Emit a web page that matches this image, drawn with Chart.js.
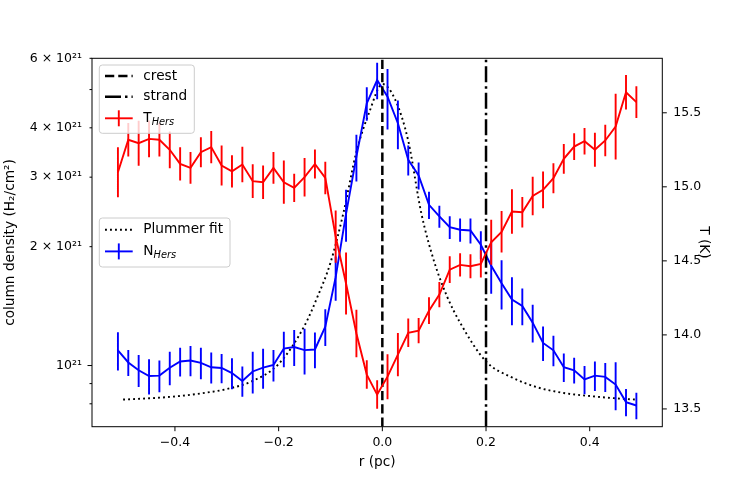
<!DOCTYPE html>
<html>
<head>
<meta charset="UTF-8">
<title>Column density and temperature profile</title>
<script src="https://cdn.jsdelivr.net/npm/chart.js"></script>
<style>
    body { margin: 0; background: #fff; }
    #wrap { width: 736px; height: 480px; position: relative; }
</style>
</head>
<body>
<div id="wrap"><canvas id="profile"></canvas></div>
<script>
// radial offsets of the profile samples (pc)
const rVals = [-0.51, -0.49, -0.47, -0.45, -0.43, -0.41, -0.39, -0.37, -0.35, -0.33,
               -0.31, -0.29, -0.27, -0.25, -0.23, -0.21, -0.19, -0.17, -0.15, -0.13,
               -0.11, -0.09, -0.07, -0.05, -0.03, -0.01, 0.01, 0.03, 0.05, 0.07,
               0.09, 0.11, 0.13, 0.15, 0.17, 0.19, 0.21, 0.23, 0.25, 0.27,
               0.29, 0.31, 0.33, 0.35, 0.37, 0.39, 0.41, 0.43, 0.45, 0.47, 0.49];

// N_Hers in units of 1e21 cm^-2
const nVals = [1.093, 1.018, 0.973, 0.941, 0.943, 0.987, 1.024, 1.030, 1.016, 0.990,
               0.986, 0.957, 0.914, 0.966, 0.988, 1.003, 1.104, 1.114, 1.094, 1.098,
               1.255, 1.674, 2.423, 3.382, 4.616, 5.287, 4.798, 4.109, 3.318, 3.031,
               2.553, 2.388, 2.240, 2.208, 2.198, 2.023, 1.790, 1.617, 1.469, 1.416,
               1.284, 1.141, 1.093, 0.990, 0.973, 0.922, 0.943, 0.936, 0.895, 0.808, 0.792];
const nErr = [0.122, 0.077, 0.090, 0.096, 0.087, 0.096, 0.086, 0.090, 0.093, 0.089,
              0.084, 0.086, 0.081, 0.117, 0.115, 0.092, 0.114, 0.117, 0.145, 0.114,
              0.134, 0.214, 0.364, 0.459, 0.449, 0.563, 0.838, 0.579, 0.290, 0.238,
              0.204, 0.153, 0.147, 0.150, 0.160, 0.165, 0.271, 0.231, 0.205, 0.151,
              0.141, 0.114, 0.097, 0.082, 0.073, 0.076, 0.081, 0.079, 0.124, 0.064, 0.061];

// T_Hers (K)
const tVals = [15.099, 15.318, 15.295, 15.324, 15.318, 15.250, 15.155, 15.128, 15.234, 15.268,
               15.144, 15.105, 15.151, 15.038, 15.031, 15.128, 15.031, 14.993, 15.065, 15.154,
               15.060, 14.664, 14.347, 14.009, 13.732, 13.597, 13.718, 13.867, 14.014, 14.029,
               14.164, 14.272, 14.441, 14.473, 14.464, 14.480, 14.626, 14.696, 14.833, 14.828,
               14.938, 14.980, 15.058, 15.189, 15.272, 15.308, 15.250, 15.313, 15.407, 15.639, 15.572];
const tErr = [0.169, 0.113, 0.152, 0.124, 0.113, 0.124, 0.113, 0.107, 0.101, 0.109,
              0.135, 0.109, 0.120, 0.114, 0.113, 0.107, 0.146, 0.096, 0.130, 0.098,
              0.110, 0.176, 0.210, 0.160, 0.096, 0.096, 0.152, 0.146, 0.096, 0.085,
              0.090, 0.085, 0.090, 0.079, 0.081, 0.092, 0.152, 0.140, 0.150, 0.103,
              0.130, 0.124, 0.101, 0.101, 0.090, 0.090, 0.115, 0.107, 0.222, 0.116, 0.107];

// Plummer fit (1e21 cm^-2)
const fitR = [-0.50, -0.45, -0.40, -0.35, -0.30, -0.25, -0.20, -0.15, -0.125, -0.10, -0.075, -0.05, -0.025,
              0, 0.025, 0.05, 0.075, 0.10, 0.125, 0.15, 0.20, 0.25, 0.30, 0.35, 0.40, 0.45, 0.49];
const fitN = [0.820, 0.826, 0.835, 0.850, 0.872, 0.914, 1.009, 1.262, 1.494, 1.822, 2.437, 3.476, 4.387,
              5.164, 4.706, 3.706, 2.437, 1.833, 1.494, 1.284, 1.024, 0.933, 0.880, 0.852, 0.837, 0.826, 0.820];

// marker lines
const crestR = 0.0;
const strandR = 0.2;

// axis ranges and ticks
const xMin = -0.56, xMax = 0.54;
const nMin = 0.70, nMax = 6.0;
const tMin = 13.38, tMax = 15.868;
const xTickVals = [-0.4, -0.2, 0.0, 0.2, 0.4];
const xTickLabels = ['\u22120.4', '\u22120.2', '0.0', '0.2', '0.4'];
const nTickVals = [0.8, 0.9, 1, 2, 3, 4, 5, 6];
const nTickLabels = ['', '', '10\u00b2\u00b9', '2 \u00d7 10\u00b2\u00b9', '3 \u00d7 10\u00b2\u00b9', '4 \u00d7 10\u00b2\u00b9', '', '6 \u00d7 10\u00b2\u00b9'];
const tTickVals = [13.5, 14.0, 14.5, 15.0, 15.5];
const tTickLabels = ['13.5', '14.0', '14.5', '15.0', '15.5'];

const FONT = "'DejaVu Sans', sans-serif";
const tickFont = { family: FONT, size: 12.5 };

const pts = (xs, ys) => xs.map((x, i) => ({ x: x, y: ys[i] }));

// vertical error bars, drawn right after their own dataset
const errorBars = {
    id: 'errorBars',
    afterDatasetDraw(chart, args) {
        const ds = chart.data.datasets[args.index];
        if (!ds.errors) return;
        const xs = chart.scales[args.meta.xAxisID];
        const ys = chart.scales[args.meta.yAxisID];
        const ctx = chart.ctx;
        ctx.save();
        ctx.strokeStyle = ds.borderColor;
        ctx.lineWidth = ds.borderWidth;
        ctx.beginPath();
        ds.data.forEach((p, i) => {
            const x = xs.getPixelForValue(p.x);
            ctx.moveTo(x, ys.getPixelForValue(p.y - ds.errors[i]));
            ctx.lineTo(x, ys.getPixelForValue(p.y + ds.errors[i]));
        });
        ctx.stroke();
        ctx.restore();
    }
};

function labelWithSub(ctx, x, y, main, sub) {
    ctx.font = '13.7px ' + FONT;
    ctx.textBaseline = 'middle';
    ctx.textAlign = 'left';
    ctx.fillText(main, x, y);
    const w = ctx.measureText(main).width;
    if (sub) {
        ctx.font = 'italic 9.8px ' + FONT;
        ctx.fillText(sub, x + w, y + 4);
    }
}

function drawLegend(ctx, x, y, w, h, rows) {
    ctx.save();
    ctx.fillStyle = 'rgba(255,255,255,0.8)';
    ctx.strokeStyle = '#cccccc';
    ctx.lineWidth = 1;
    ctx.beginPath();
    ctx.roundRect(x, y, w, h, 3);
    ctx.fill();
    ctx.stroke();
    rows.forEach(row => {
        const yy = y + row.dy;
        ctx.strokeStyle = row.color;
        ctx.lineWidth = row.width;
        ctx.setLineDash(row.dash || []);
        ctx.beginPath();
        ctx.moveTo(x + 5.7, yy);
        ctx.lineTo(x + 33.4, yy);
        ctx.stroke();
        ctx.setLineDash([]);
        if (row.bar) {
            ctx.beginPath();
            ctx.moveTo(x + 19.5, yy - 8);
            ctx.lineTo(x + 19.5, yy + 8);
            ctx.stroke();
        }
        ctx.fillStyle = '#000';
        labelWithSub(ctx, x + 44, yy, row.label, row.sub);
    });
    ctx.restore();
}

// frame, tick marks, axis titles and the two legends
const decorations = {
    id: 'decorations',
    afterDraw(chart) {
        const { ctx, chartArea: a, scales } = chart;
        ctx.save();
        ctx.strokeStyle = '#000';
        ctx.lineWidth = 1;
        ctx.strokeRect(a.left, a.top, a.right - a.left, a.bottom - a.top);
        ctx.beginPath();
        xTickVals.forEach(v => {
            const x = scales.x.getPixelForValue(v);
            ctx.moveTo(x, a.bottom); ctx.lineTo(x, a.bottom + 4.5);
        });
        nTickVals.forEach(v => {
            const y = scales.yN.getPixelForValue(v);
            ctx.moveTo(a.left, y); ctx.lineTo(a.left - (v === 1 ? 4.5 : 2.5), y);
        });
        tTickVals.forEach(v => {
            const y = scales.yT.getPixelForValue(v);
            ctx.moveTo(a.right, y); ctx.lineTo(a.right + 4.5, y);
        });
        ctx.stroke();

        ctx.fillStyle = '#000';
        ctx.font = '13.7px ' + FONT;
        ctx.textAlign = 'center';
        ctx.textBaseline = 'middle';
        const midY = (a.top + a.bottom) / 2;
        ctx.fillText('r (pc)', (a.left + a.right) / 2, a.bottom + 36);
        ctx.save();
        ctx.translate(10, midY);
        ctx.rotate(-Math.PI / 2);
        ctx.fillText('column density (H\u2082/cm\u00b2)', 0, 0);
        ctx.restore();
        ctx.save();
        ctx.translate(a.right + 41, midY);
        ctx.rotate(Math.PI / 2);
        ctx.fillText('T (K)', 0, 0);
        ctx.restore();
        ctx.restore();

        drawLegend(ctx, a.left + 7.3, a.top + 6.7, 95, 68.3, [
            { dy: 11, color: '#000', width: 2.5, dash: [9.25, 4], label: 'crest' },
            { dy: 31.7, color: '#000', width: 2.5, dash: [16, 4, 2.5, 4], label: 'strand' },
            { dy: 53.3, color: '#ff0000', width: 1.9, bar: true, label: 'T', sub: 'Hers' }
        ]);
        drawLegend(ctx, a.left + 7.3, midY - 24.5, 130.7, 49, [
            { dy: 11.7, color: '#000', width: 1.9, dash: [1.9, 3.1], label: 'Plummer fit' },
            { dy: 33.4, color: '#0000ff', width: 1.9, bar: true, label: 'N', sub: 'Hers' }
        ]);
    }
};

const ctx = document.getElementById('profile').getContext('2d');
new Chart(ctx, {
    type: 'line',
    data: {
        datasets: [
            {
                label: 'T_Hers', data: pts(rVals, tVals), errors: tErr, yAxisID: 'yT',
                borderColor: '#ff0000', borderWidth: 1.9, pointRadius: 0, order: 0
            },
            {
                label: 'crest', data: [{ x: crestR, y: tMin }, { x: crestR, y: tMax }], yAxisID: 'yT',
                borderColor: '#000', borderWidth: 2.5, borderDash: [9.25, 4], pointRadius: 0, order: 1
            },
            {
                label: 'strand', data: [{ x: strandR, y: tMin }, { x: strandR, y: tMax }], yAxisID: 'yT',
                borderColor: '#000', borderWidth: 2.5, borderDash: [16, 4, 2.5, 4], pointRadius: 0, order: 1
            },
            {
                label: 'N_Hers', data: pts(rVals, nVals), errors: nErr, yAxisID: 'yN',
                borderColor: '#0000ff', borderWidth: 1.9, pointRadius: 0, order: 2
            },
            {
                label: 'Plummer fit', data: pts(fitR, fitN), yAxisID: 'yN',
                borderColor: '#000', borderWidth: 1.9, borderDash: [1.9, 3.1],
                cubicInterpolationMode: 'monotone', pointRadius: 0, order: 3
            }
        ]
    },
    options: {
        responsive: true,
        maintainAspectRatio: false,
        animation: false,
        layout: { padding: { top: 58.3, left: 0, right: 0, bottom: 0 } },
        plugins: { legend: { display: false }, tooltip: { enabled: false } },
        scales: {
            x: {
                type: 'linear', position: 'bottom', min: xMin, max: xMax,
                afterBuildTicks: s => { s.ticks = xTickVals.map(v => ({ value: v })); },
                afterFit: s => { s.height = 53.3; },
                grid: { display: false, drawTicks: false },
                border: { display: false },
                ticks: { padding: 9, color: '#000', font: tickFont, autoSkip: false, maxRotation: 0,
                         callback: (v, i) => xTickLabels[i] }
            },
            yN: {
                type: 'logarithmic', position: 'left', min: nMin, max: nMax,
                afterBuildTicks: s => { s.ticks = nTickVals.map(v => ({ value: v })); },
                afterFit: s => { s.width = 92; },
                grid: { display: false, drawTicks: false },
                border: { display: false },
                ticks: { padding: 10, color: '#000', font: tickFont, autoSkip: false,
                         callback: (v, i) => nTickLabels[i] }
            },
            yT: {
                type: 'linear', position: 'right', min: tMin, max: tMax,
                afterBuildTicks: s => { s.ticks = tTickVals.map(v => ({ value: v })); },
                afterFit: s => { s.width = 73.7; },
                grid: { display: false, drawTicks: false },
                border: { display: false },
                ticks: { padding: 11, color: '#000', font: tickFont, autoSkip: false,
                         callback: (v, i) => tTickLabels[i] }
            }
        }
    },
    plugins: [errorBars, decorations]
});
</script>
</body>
</html>
